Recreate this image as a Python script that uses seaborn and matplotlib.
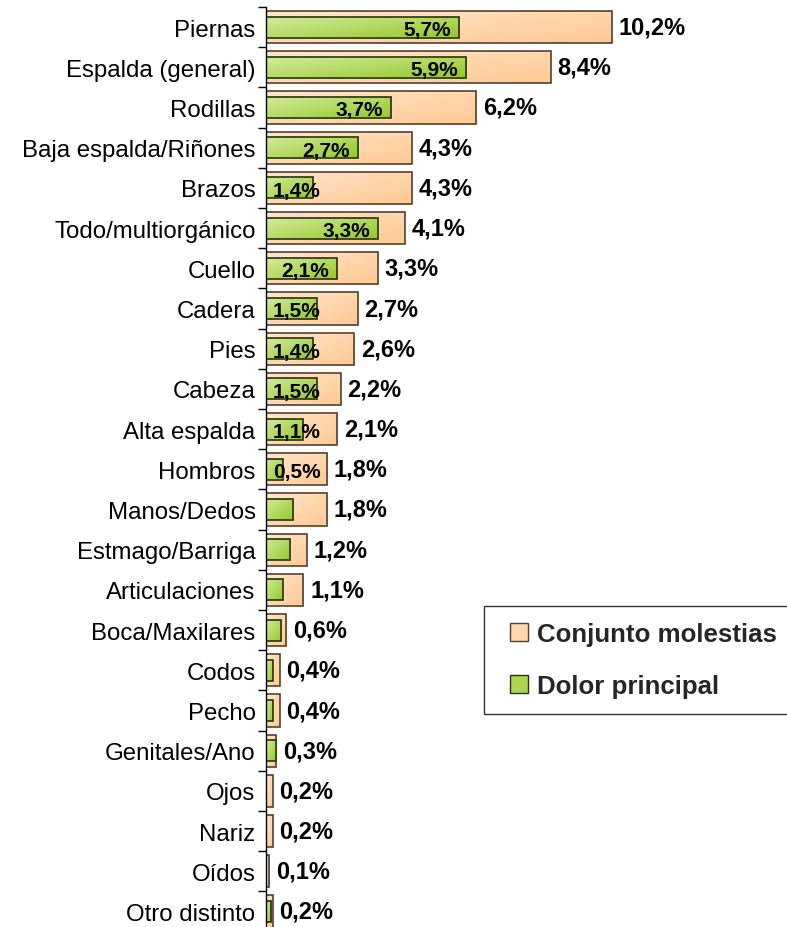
import matplotlib
matplotlib.use("Agg")
import matplotlib.pyplot as plt
import seaborn as sns
import pandas as pd
import numpy as np
from matplotlib.patches import Patch, Rectangle
from matplotlib.legend_handler import HandlerPatch
from matplotlib.colors import LinearSegmentedColormap

categories = ["Piernas", "Espalda (general)", "Rodillas", "Baja espalda/Riñones", "Brazos",
              "Todo/multiorgánico", "Cuello", "Cadera", "Pies", "Cabeza", "Alta espalda",
              "Hombros", "Manos/Dedos", "Estmago/Barriga", "Articulaciones", "Boca/Maxilares",
              "Codos", "Pecho", "Genitales/Ano", "Ojos", "Nariz", "Oídos", "Otro distinto"]
conjunto = [10.2, 8.4, 6.2, 4.3, 4.3, 4.1, 3.3, 2.7, 2.6, 2.2, 2.1, 1.8, 1.8, 1.2, 1.1, 0.6,
            0.4, 0.4, 0.3, 0.2, 0.2, 0.1, 0.2]
principal = [5.7, 5.9, 3.7, 2.7, 1.4, 3.3, 2.1, 1.5, 1.4, 1.5, 1.1, 0.5, 0.8, 0.7, 0.5, 0.45,
             0.2, 0.2, 0.3, 0.0, 0.0, 0.0, 0.15]
principal_labels = ["5,7%", "5,9%", "3,7%", "2,7%", "1,4%", "3,3%", "2,1%", "1,5%", "1,4%",
                    "1,5%", "1,1%", "0,5%"]
conjunto_labels = ["10,2%", "8,4%", "6,2%", "4,3%", "4,3%", "4,1%", "3,3%", "2,7%", "2,6%",
                   "2,2%", "2,1%", "1,8%", "1,8%", "1,2%", "1,1%", "0,6%", "0,4%", "0,4%",
                   "0,3%", "0,2%", "0,2%", "0,1%", "0,2%"]

df = pd.DataFrame({"cat": categories, "conjunto": conjunto, "principal": principal})

sns.set_theme(style="white")
plt.rcParams["font.family"] = ["Liberation Sans", "DejaVu Sans"]

W, H = 787, 928
fig = plt.figure(figsize=(W / 100, H / 100), dpi=100)
px_per_unit = 33.9
ax_left = 266
ax_w = W - ax_left
row = 40.2
top = 8
ax_h = row * len(categories)
ax = fig.add_axes([ax_left / W, (H - top - ax_h) / H, ax_w / W, ax_h / H])

orange = "#FFD3A6"
green = "#A9D446"
orange_edge = "#553f2c"
green_edge = "#27330d"
orange_cmap = LinearSegmentedColormap.from_list("o", ["#FFE6CF", "#FFC993"])
green_cmap = LinearSegmentedColormap.from_list("g", ["#D2EB9A", "#96C82A"])

sns.barplot(data=df, y="cat", x="conjunto", orient="h", color=orange, width=0.8,
            edgecolor=orange_edge, linewidth=1.2, saturation=1, ax=ax)
n_orange = len(ax.patches)
sns.barplot(data=df, y="cat", x="principal", orient="h", color=green, width=0.52,
            edgecolor=green_edge, linewidth=1.2, saturation=1, ax=ax)

ax.set_xlim(0, ax_w / px_per_unit)
ax.set_ylim(len(categories) - 0.5, -0.5)

# gradient fills clipped to each bar
gx, gy = np.meshgrid(np.linspace(0, 1, 64), np.linspace(0, 1, 16))
grad = 0.55 * gx + 0.45 * gy
for k, p in enumerate(list(ax.patches)):
    is_orange = k < n_orange
    x0, y0 = p.get_x(), p.get_y()
    w, h = p.get_width(), p.get_height()
    if w <= 0:
        continue
    p.set_facecolor("none")
    p.set_zorder(2.2 if is_orange else 3.2)
    im = ax.imshow(grad, cmap=orange_cmap if is_orange else green_cmap,
                   extent=[x0, x0 + w, y0 + h, y0], origin="upper", aspect="auto",
                   interpolation="bilinear", zorder=2.1 if is_orange else 3.1)
    im.set_clip_path(p)
ax.set_xlim(0, ax_w / px_per_unit)
ax.set_ylim(len(categories) - 0.5, -0.5)

ax.set_xlabel("")
ax.set_ylabel("")
ax.set_xticks([])
for s in ["top", "right", "bottom"]:
    ax.spines[s].set_visible(False)
ax.spines["left"].set_color("black")
ax.spines["left"].set_linewidth(1.0)
ax.spines["left"].set_zorder(5)

ax.tick_params(axis="y", which="major", length=0, pad=7.5, labelsize=17.3, labelcolor="black")
ax.set_yticks(np.arange(len(categories) + 1) - 0.5, minor=True)
ax.tick_params(axis="y", which="minor", length=6, width=1, color="black", left=True)

for i, (v, lab) in enumerate(zip(conjunto, conjunto_labels)):
    ax.text(v + 0.2, i, lab, ha="left", va="center", fontsize=17, fontweight="bold",
            color="black", zorder=6)
for i, lab in enumerate(principal_labels):
    v = principal[i]
    if v >= 1.8:
        ax.text(v - 0.24, i + 0.06, lab, ha="right", va="center", fontsize=15,
                fontweight="bold", color="black", zorder=6)
    else:
        ax.text(0.2, i + 0.06, lab, ha="left", va="center", fontsize=15,
                fontweight="bold", color="black", zorder=6)


def square_right(legend, orig_handle, xdescent, ydescent, width, height, fontsize):
    return Rectangle((-xdescent + width - height, -ydescent), height, height)


handles = [Patch(facecolor="#FFD6AE", edgecolor=orange_edge, linewidth=1.0, label="Conjunto molestias"),
           Patch(facecolor="#ACD650", edgecolor=green_edge, linewidth=1.0, label="Dolor principal")]
leg = fig.legend(handles=handles, loc="upper left", bbox_to_anchor=(484 / W, 1 - 607 / H),
                 frameon=True, fancybox=False, prop={"size": 18.6, "weight": "bold"},
                 handlelength=1.1, handleheight=0.7, handletextpad=0.32, borderpad=0.62,
                 labelspacing=1.08, borderaxespad=0,
                 handler_map={Patch: HandlerPatch(patch_func=square_right)})
leg.get_frame().set_edgecolor("black")
leg.get_frame().set_linewidth(1.0)

fig.savefig("out.png", dpi=100)
